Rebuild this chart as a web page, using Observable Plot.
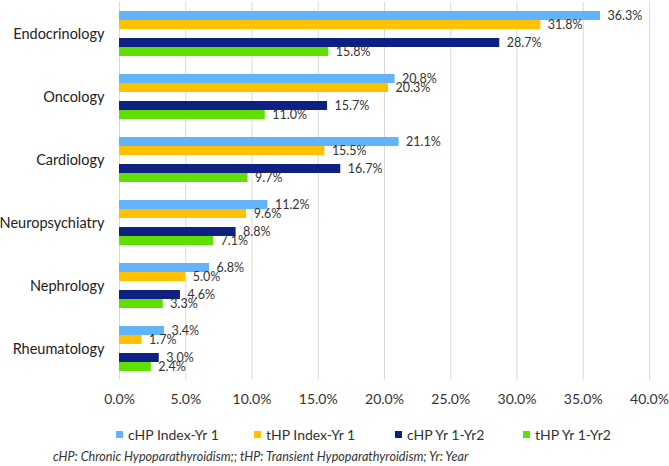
<!DOCTYPE html>
<html><head><meta charset="utf-8">
<script src="https://cdn.jsdelivr.net/npm/d3@7"></script>
<script src="https://cdn.jsdelivr.net/npm/@observablehq/plot@0.6"></script>
<style>
body{margin:0;background:#fff;font-family:Lato,"Open Sans",sans-serif;}
#wrap{width:669px;position:relative;}
#legend{position:relative;height:38px;font-size:14px;color:#333;white-space:nowrap;}
#legend .item{position:absolute;top:0;height:38px;display:flex;align-items:center;white-space:nowrap;}
#legend .sw{width:7px;height:7px;margin-right:5px;}
#caption{font-size:12.6px;font-style:italic;color:#333;padding-left:53px;line-height:14px;margin-top:-3px;white-space:nowrap;}
</style></head>
<body><div id="wrap"></div>
<script>
const categories = ["Endocrinology","Oncology","Cardiology","Neuropsychiatry","Nephrology","Rheumatology"];
const seriesNames = ["cHP Index-Yr 1","tHP Index-Yr 1","cHP Yr 1-Yr2","tHP Yr 1-Yr2"];
const seriesColors = ["#62b4fa","#ffc000","#0d2182","#5fe000"];
const cHPIndexYr1 = [36.3,20.8,21.1,11.2,6.8,3.4];
const tHPIndexYr1 = [31.8,20.3,15.5,9.6,5.0,1.7];
const cHPYr1Yr2   = [28.7,15.7,16.7,8.8,4.6,3.0];
const tHPYr1Yr2   = [15.8,11.0,9.7,7.1,3.3,2.4];
const xTicks = [0,5,10,15,20,25,30,35,40];
const captionText = "cHP: Chronic Hypoparathyroidism;; tHP: Transient Hypoparathyroidism;  Yr: Year";

const seriesValues = [cHPIndexYr1,tHPIndexYr1,cHPYr1Yr2,tHPYr1Yr2];
const data = [];
categories.forEach((c,i)=>seriesNames.forEach((s,j)=>data.push({cat:c,series:s,value:seriesValues[j][i]})));
const slots = ["_a",seriesNames[0],seriesNames[1],"_b",seriesNames[2],seriesNames[3],"_c"];

const chart = Plot.plot({
  width:669, height:415,
  marginLeft:119, marginRight:20, marginTop:0, marginBottom:33,
  style:{fontFamily:"Lato, 'Open Sans', sans-serif", color:"#333"},
  x:{domain:[0,40], label:null},
  y:{domain:slots, padding:0, axis:null},
  fy:{domain:categories, padding:0, label:null},
  color:{domain:seriesNames, range:seriesColors},
  marks:[
    Plot.gridX(xTicks,{stroke:"#d9d9d9", strokeOpacity:1, strokeWidth:1}),
    Plot.barX(data,{x:"value", y:"series", fy:"cat", fill:"series"}),
    Plot.text(data,{x:"value", y:"series", fy:"cat", text:d=>d.value.toFixed(1)+"%", textAnchor:"start", dx:7, fill:"#333", fontSize:12.5}),
    Plot.axisX({ticks:xTicks, tickFormat:d=>d.toFixed(1)+"%", tickSize:0, tickPadding:14, fontSize:14, label:null, fill:"#333"}),
    Plot.axisFy({anchor:"left", tickSize:0, tickPadding:15, fontSize:14.5, label:null, fill:"#222"})
  ]
});
document.getElementById("wrap").appendChild(chart);

const legendLefts = [116,254,395,523];
const legend = document.createElement("div");
legend.id="legend";
seriesNames.forEach((s,i)=>{
  const it=document.createElement("div");it.className="item";it.style.left=legendLefts[i]+"px";
  const sw=document.createElement("div");sw.className="sw";sw.style.background=seriesColors[i];
  const t=document.createElement("span");t.textContent=s;
  it.appendChild(sw);it.appendChild(t);legend.appendChild(it);
});
document.getElementById("wrap").appendChild(legend);
const cap=document.createElement("div");cap.id="caption";cap.textContent=captionText;
document.getElementById("wrap").appendChild(cap);
</script></body></html>
